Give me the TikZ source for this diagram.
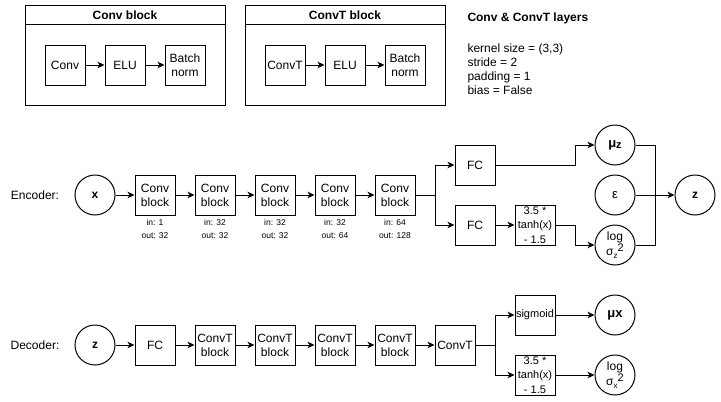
\documentclass[tikz,border=0pt]{standalone}
\usepackage{fontspec}
\setmainfont{Liberation Sans}
\usetikzlibrary{arrows.meta}
\newcommand{\mysub}[1]{\raisebox{-2.5pt}{\fontsize{8}{8}\selectfont #1}}
\newcommand{\mysup}[1]{\raisebox{4pt}{\fontsize{11}{11}\selectfont #1}}
\begin{document}
\begin{tikzpicture}[x=1pt,y=-1pt,line width=1pt,
  every node/.style={font=\fontsize{12}{14}\selectfont,inner sep=0pt},
  blk/.style={draw,minimum width=40pt,minimum height=40pt,align=center},
  fnblk/.style={blk,font=\fontsize{11}{14.5}\selectfont},
  crc/.style={draw,circle,minimum size=40pt,align=center},
  bold/.style={font=\fontsize{12}{13}\selectfont\bfseries},
  logc/.style={crc,font=\fontsize{12}{13}\selectfont},
  arr/.style={-{Stealth[length=7pt,width=6.5pt,inset=2pt]}},
  small/.style={font=\fontsize{8.5}{10}\selectfont},
  frame/.style={draw,minimum width=200pt,minimum height=100pt},
  lbl/.style={anchor=west,align=left}]
\useasboundingbox (0,0) rectangle (721,402);

% ---- Conv block legend
\node[frame] (cbf) at (125,55) {};
\draw ([yshift=-20pt]cbf.north west) -- ([yshift=-20pt]cbf.north east);
\node[bold] (cbt) at (125,15) {Conv block};
\node[blk] (cconv) at (65,65) {Conv};
\node[blk] (celu) at (125,65) {ELU};
\node[blk] (cbn) at (185,65) {Batch\\norm};
\draw[arr] (cconv) -- (celu);
\draw[arr] (celu) -- (cbn);

% ---- ConvT block legend
\node[frame] (tbf) at (345,55) {};
\draw ([yshift=-20pt]tbf.north west) -- ([yshift=-20pt]tbf.north east);
\node[bold] (tbt) at (345,15) {ConvT block};
\node[blk] (tconv) at (285,65) {ConvT};
\node[blk] (telu) at (345,65) {ELU};
\node[blk] (tbn) at (405,65) {Batch\\norm};
\draw[arr] (tconv) -- (telu);
\draw[arr] (telu) -- (tbn);

% ---- layer parameters
\node[bold,lbl] (ltitle) at (467,18) {Conv \& ConvT layers};
\node[lbl,font=\fontsize{12}{14}\selectfont] (lparams) at (467,69) {kernel size = (3,3)\\stride = 2\\padding = 1\\bias = False};

% ---- Encoder
\node (enc) at (35,195) {Encoder:};
\node[crc,bold] (x) at (95,195) {x};
\node[blk] (e1) at (155,195) {Conv\\block};
\node[blk] (e2) at (215,195) {Conv\\block};
\node[blk] (e3) at (275,195) {Conv\\block};
\node[blk] (e4) at (335,195) {Conv\\block};
\node[blk] (e5) at (395,195) {Conv\\block};
\node[small] (i1) at (155,222) {in: 1};
\node[small] (o1) at (155,236) {out: 32};
\node[small] (i2) at (215,222) {in: 32};
\node[small] (o2) at (215,236) {out: 32};
\node[small] (i3) at (275,222) {in: 32};
\node[small] (o3) at (275,236) {out: 32};
\node[small] (i4) at (335,222) {in: 32};
\node[small] (o4) at (335,236) {out: 64};
\node[small] (i5) at (395,222) {in: 64};
\node[small] (o5) at (395,236) {out: 128};
\draw[arr] (x) -- (e1);
\draw[arr] (e1) -- (e2);
\draw[arr] (e2) -- (e3);
\draw[arr] (e3) -- (e4);
\draw[arr] (e4) -- (e5);
\coordinate (es) at (435,195);
\node[blk] (fc1) at (475,165) {FC};
\node[blk] (fc2) at (475,225) {FC};
\node[fnblk] (tz) at (535,225) {3.5 *\\tanh(x)\\- 1.5};
\node[crc,font=\fontsize{13}{14}\selectfont\bfseries] (muz) at (615,145) {μ\raisebox{-1.5pt}{\fontsize{11}{11}\selectfont z}};
\node[crc,font=\fontsize{13}{14}\selectfont] (eps) at (615,195) {ε};
\node[logc] (logz) at (615,245) {log\\σ\mysub{z}\mysup{2}};
\node[crc,bold] (z) at (695,195) {z};
\draw (e5) -- (es);
\draw[arr] (es) |- (fc1);
\draw[arr] (es) |- (fc2);
\draw[arr] (fc1.east) -- ++(80,0) |- (muz.west);
\draw[arr] (fc2) -- (tz);
\draw[arr] (tz.east) -- ++(20,0) |- (logz.west);
\coordinate (em) at (655,195);
\draw (muz.east) -| (em);
\draw (logz.east) -| (em);
\draw[arr] (eps) -- (z);

% ---- Decoder
\node (dec) at (35,345) {Decoder:};
\node[crc,bold] (zd) at (95,345) {z};
\node[blk] (dfc) at (155,345) {FC};
\node[blk] (d1) at (215,345) {ConvT\\block};
\node[blk] (d2) at (275,345) {ConvT\\block};
\node[blk] (d3) at (335,345) {ConvT\\block};
\node[blk] (d4) at (395,345) {ConvT\\block};
\node[blk] (dct) at (455,345) {ConvT};
\draw[arr] (zd) -- (dfc);
\draw[arr] (dfc) -- (d1);
\draw[arr] (d1) -- (d2);
\draw[arr] (d2) -- (d3);
\draw[arr] (d3) -- (d4);
\draw[arr] (d4) -- (dct);
\coordinate (ds) at (495,345);
\node[fnblk] (sig) at (535,315) {sigmoid};
\node[fnblk] (tx) at (535,375) {3.5 *\\tanh(x)\\- 1.5};
\node[crc,font=\fontsize{13}{14}\selectfont\bfseries] (mux) at (615,315) {μx};
\node[logc] (logx) at (615,375) {log\\σ\mysub{x}\mysup{2}};
\draw (dct) -- (ds);
\draw[arr] (ds) |- (sig);
\draw[arr] (ds) |- (tx);
\draw[arr] (sig) -- (mux);
\draw[arr] (tx) -- (logx);
\end{tikzpicture}
\end{document}
